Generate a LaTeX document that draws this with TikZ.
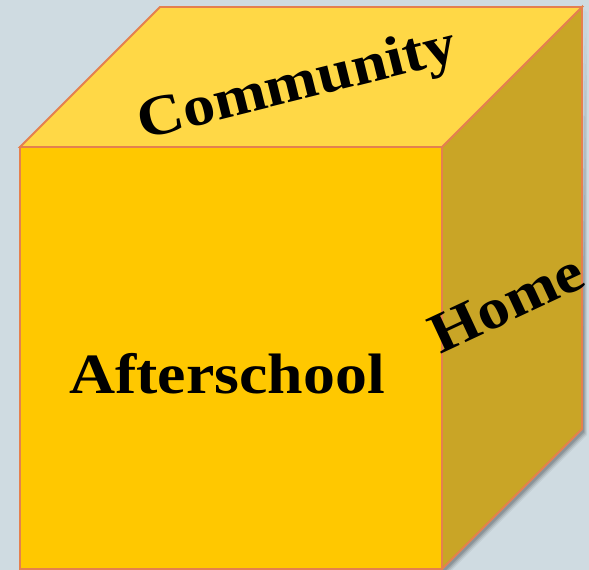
\documentclass[tikz,border=0pt]{standalone}
\usepackage{fontspec}
\setmainfont{Liberation Serif}
% slightly widened bold serif for the face labels
\newfontfamily\facefont[FakeStretch=1.12]{Liberation Serif}
\begin{document}
\definecolor{bgblue}{HTML}{CFDBE1}
\definecolor{frontgold}{HTML}{FFC800}
\definecolor{topgold}{HTML}{FFD846}
\definecolor{sidegold}{HTML}{C9A526}
\definecolor{edgecoral}{HTML}{E4804F}
\begin{tikzpicture}[x=1pt,y=-1pt,
  face/.style={draw=edgecoral,line width=1.8pt,line join=miter},
  label/.style={font=\facefont\fontsize{57}{60}\selectfont\bfseries,text=black,
    inner sep=0pt,anchor=base}]
  % canvas
  \fill[bgblue] (0,0) rectangle (589,570);
  \useasboundingbox (0,0) rectangle (589,570);
  % soft shadow along the lower right
  \foreach \o/\a in {5/0.06,4/0.08,3/0.10,2/0.12}{
    \fill[black,opacity=\a] (582+\o,7+\o) -- (582+\o,430+\o) -- (442+\o,570+\o) -- (442,570) -- (582,430) -- cycle;
  }
  % cube corners
  \coordinate (ftl) at (20,147);
  \coordinate (ftr) at (442,147);
  \coordinate (fbr) at (442,569);
  \coordinate (fbl) at (20,569);
  \coordinate (btl) at (160,7);
  \coordinate (btr) at (582,7);
  \coordinate (bbr) at (582,429);
  % faces
  \path[face,fill=sidegold] (ftr) -- (btr) -- (bbr) -- (fbr) -- cycle;
  \path[face,fill=topgold] (ftl) -- (btl) -- (btr) -- (ftr) -- cycle;
  \path[face,fill=frontgold] (ftl) -- (ftr) -- (fbr) -- (fbl) -- cycle;
  % face labels
  \node[label] (after) at (227,393) {Afterschool};
  \node[label,rotate=14] (comm) at (301,100) {Community};
  \node[label,rotate=25] (home) at (514,320) {Home};
\end{tikzpicture}
\end{document}
